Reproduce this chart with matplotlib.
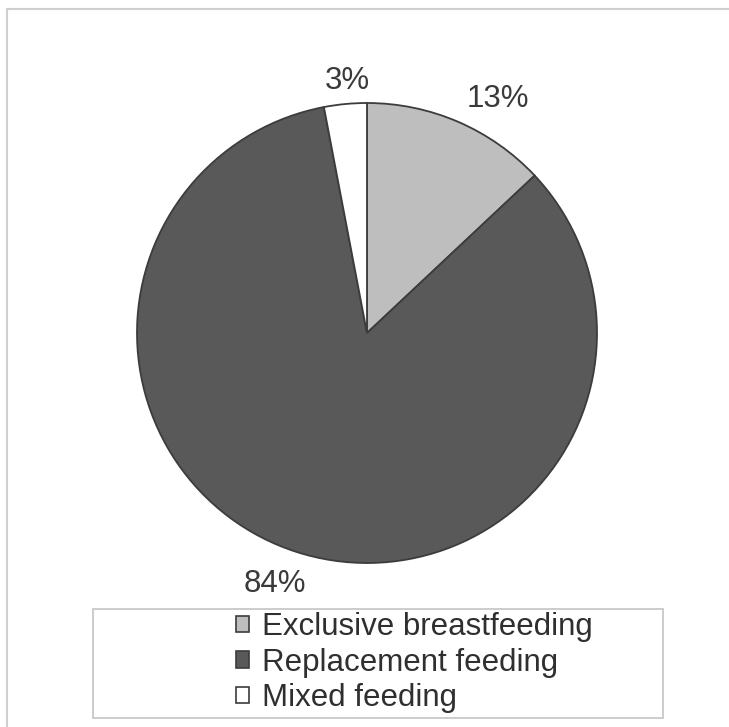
import matplotlib.pyplot as plt
from matplotlib.patches import Rectangle
import numpy as np

plt.rcParams["font.family"] = ["Liberation Sans", "DejaVu Sans"]

categories = ["Exclusive breastfeeding", "Replacement feeding", "Mixed feeding"]
shares = [13, 84, 3]
pct_labels = ["13%", "84%", "3%"]
colors = ["#bebebe", "#595959", "#ffffff"]
# label placement: radial factor and angular nudge (deg) per slice
label_dist = [1.165, 1.16, 1.10]
label_turn = [-5.8, -2.1, -0.9]

W, H = 729, 727
fig = plt.figure(figsize=(W / 100, H / 100), dpi=100)
ax = fig.add_axes([0, 0, 1, 1])

# pie centre / radius in pixel units (y measured from bottom)
cx, cy, r = 367, H - 333, 230
wedges, _ = ax.pie(shares, colors=colors, startangle=90, counterclock=False,
                   center=(cx, cy), radius=r,
                   wedgeprops=dict(edgecolor="#3c3c3c", linewidth=1.3))

for w, lab, d, t in zip(wedges, pct_labels, label_dist, label_turn):
    ang = np.deg2rad((w.theta1 + w.theta2) / 2 + t)
    ax.text(cx + d * r * np.cos(ang), cy + d * r * np.sin(ang), lab,
            ha="center", va="center", fontsize=22.5, color="#3a3a3a")

ax.set_xlim(0, W)
ax.set_ylim(0, H)
ax.set_aspect("equal")
ax.axis("off")

# outer frame (only left and top edges are visible in the crop)
ax.plot([7, 7, W + 5], [-5, H - 9, H - 9], color="#cfcfcf", lw=1.5)

# legend box
ax.add_patch(Rectangle((93, H - 718), 570, 109, fill=False,
                       edgecolor="#c8c8c8", lw=1.3))

leg = ax.legend(wedges, categories, loc="upper left",
                bbox_to_anchor=(236 / W, (H - 612) / H),
                frameon=False, fontsize=22.5, handlelength=0.42,
                handleheight=0.42, handletextpad=0.4, labelspacing=0.18,
                borderpad=0, borderaxespad=0)
for t in leg.get_texts():
    t.set_color("#2f2f2f")
for h in leg.legend_handles:
    h.set_edgecolor("#3c3c3c")
    h.set_linewidth(1.2)

fig.savefig("out.png", dpi=100)
